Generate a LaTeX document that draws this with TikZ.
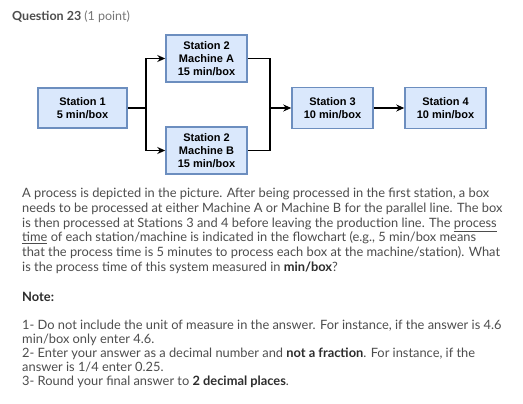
\documentclass[tikz,border=0pt]{standalone}
\usepackage{fontspec}
\setmainfont{Lato}
\newfontfamily\helv{Liberation Sans}
\usetikzlibrary{arrows.meta}

\definecolor{boxfill}{HTML}{DAE8FC}
\definecolor{boxline}{HTML}{6C8EBF}
\definecolor{txtgray}{HTML}{4D4D4D}
\definecolor{darkgray}{HTML}{2D2D2D}
\definecolor{pointgray}{HTML}{777777}

\tikzset{
  station/.style={draw=boxline, fill=boxfill, line width=1.5pt, inner sep=0pt,
    minimum width=81pt, align=center, text=black,
    font=\helv\bfseries\fontsize{11}{13}\selectfont},
  link/.style={line width=1.5pt},
  flow/.style={link, -{Stealth[length=8pt,width=7pt]}},
  para/.style={anchor=base west, inner sep=0pt, align=left, text=txtgray,
    font=\fontsize{12.85}{14.8}\selectfont}
}

\newcommand{\emphtxt}[1]{{\bfseries\color{darkgray}#1}}

\begin{document}
\begin{tikzpicture}[x=1pt, y=-1pt]
  \useasboundingbox[fill=white] (0,0) rectangle (523,404);

  % --- title ---
  \node[para, font=\fontsize{12.5}{15}\selectfont] (title) at (12,21)
    {\bfseries Question 23 {\mdseries\color{pointgray}(1 point)}};

  % --- stations ---
  \node[station, minimum width=89pt, minimum height=40pt] (st1) at (82.5,108)
    {Station 1\\5 min/box};
  \node[station, minimum height=47pt] (machA) at (206.5,58.5)
    {Station 2\\Machine A\\15 min/box};
  \node[station, minimum height=47pt] (machB) at (206.5,150.5)
    {Station 2\\Machine B\\15 min/box};
  \node[station, minimum height=41pt] (st3) at (332.5,108)
    {Station 3\\10 min/box};
  \node[station, minimum height=41pt] (st4) at (445.5,108)
    {Station 4\\10 min/box};

  % --- split and merge points ---
  \coordinate (split) at (146,108);
  \coordinate (merge) at (270,108);

  % --- connectors ---
  \draw[link] (st1) -- (split);
  \draw[flow] (split) |- (machA);
  \draw[flow] (split) |- (machB);
  \draw[link] (machA) -| (merge);
  \draw[link] (machB) -| (merge);
  \draw[flow] (merge) -- (st3);
  \draw[flow] (st3) -- (st4);

  % --- question text (anchored at the baseline of its last line) ---
  \node[para] (question) at (22,271.5)
    {A process is depicted in the picture. After being processed in the first station, a box\\
     needs to be processed at either Machine A or Machine B for the parallel line. The box\\
     is then processed at Stations 3 and 4 before leaving the production line. The \underline{process}\\
     \underline{time} of each station/machine is indicated in the flowchart (e.g., 5 min/box means\\
     that the process time is 5 minutes to process each box at the machine/station). What\\
     is the process time of this system measured in \emphtxt{min/box}?};

  % --- notes ---
  \node[para] (notetitle) at (22,301) {\emphtxt{Note:}};
  \node[para, font=\fontsize{12.85}{14}\selectfont] (notes) at (22,385)
    {1- Do not include the unit of measure in the answer. For instance, if the answer is 4.6\\
     min/box only enter 4.6.\\
     2- Enter your answer as a decimal number and \emphtxt{not a fraction}. For instance, if the\\
     answer is 1/4 enter 0.25.\\
     3- Round your final answer to \emphtxt{2 decimal places}.};
\end{tikzpicture}
\end{document}
